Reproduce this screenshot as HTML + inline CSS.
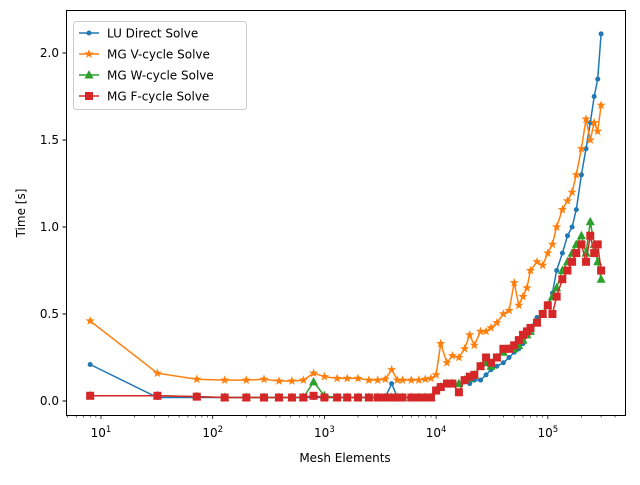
<!DOCTYPE html>
<html><head><meta charset="utf-8"><style>
body{margin:0;background:#fff;}
svg{font-family:"DejaVu Sans","Liberation Sans",sans-serif;}
</style></head><body>
<svg id="chart" width="640" height="480" xmlns="http://www.w3.org/2000/svg">
<rect x="0" y="0" width="640" height="480" fill="#fff"/>
<g id="plot"></g>
<rect x="66.5" y="10.5" width="559" height="405" fill="none" stroke="#000" stroke-width="1"/>
<g id="axes"></g>
<text x="345" y="462" font-size="12" text-anchor="middle">Mesh Elements</text>
<text x="25" y="213" font-size="12" text-anchor="middle" transform="rotate(-90 25 213)">Time [s]</text>
<g id="legend">
<rect x="73.5" y="21.5" width="173" height="88" rx="3" fill="#fff" fill-opacity="0.8" stroke="#ccc"/>
</g>
</svg>
<script>
const meshElements=[8,32,72,128,200,288,392,512,648,800,1000,1300,1600,2000,2500,3000,3500,4000,4500,5000,6000,7000,8000,9000,10000,11000,12500,14000,16000,18000,20000,22000,25000,28000,31000,35000,40000,45000,50000,55000,60000,65000,70000,80000,90000,100000,110000,120000,135000,150000,165000,180000,200000,220000,240000,260000,280000,300000];
const luTimes=[.21,.02,.02,.02,.02,.02,.02,.02,.02,.02,.02,.02,.02,.02,.02,.02,.02,.1,.02,.02,.02,.02,.02,.02,.07,.09,.1,.1,.1,.11,.1,.12,.12,.15,.18,.2,.22,.25,.28,.3,.33,.38,.42,.48,.5,.55,.62,.75,.85,.95,1.0,1.1,1.3,1.45,1.6,1.75,1.85,2.11];
const vTimes=[.46,.16,.125,.12,.12,.125,.115,.115,.12,.16,.14,.13,.13,.13,.12,.12,.125,.18,.12,.12,.12,.12,.125,.13,.15,.33,.22,.26,.25,.3,.38,.32,.4,.4,.42,.45,.5,.52,.68,.55,.6,.65,.75,.8,.78,.85,.9,1.0,1.1,1.15,1.2,1.3,1.45,1.62,1.5,1.6,1.55,1.7];
const wTimes=[.03,.03,.025,.02,.02,.02,.02,.02,.02,.11,.03,.02,.02,.02,.02,.02,.02,.02,.02,.02,.02,.02,.02,.02,.06,.08,.1,.1,.1,.12,.13,.15,.2,.22,.2,.25,.28,.3,.3,.32,.35,.38,.4,.45,.5,.55,.6,.65,.75,.8,.85,.9,.95,.85,1.03,.9,.8,.7];
const fTimes=[.03,.03,.025,.02,.02,.02,.02,.02,.02,.03,.02,.02,.02,.02,.02,.02,.02,.02,.02,.02,.02,.02,.02,.02,.06,.08,.1,.1,.05,.12,.14,.15,.2,.25,.22,.25,.3,.3,.32,.35,.38,.4,.42,.45,.5,.55,.5,.6,.7,.75,.8,.85,.9,.8,.95,.85,.9,.75];
const yTicks=[0,0.5,1.0,1.5,2.0];
const yTickLabels=["0.0","0.5","1.0","1.5","2.0"];
const xDecades=[1,2,3,4,5];
const seriesNames=["LU Direct Solve","MG V-cycle Solve","MG W-cycle Solve","MG F-cycle Solve"];

const NS="http://www.w3.org/2000/svg";
function X(v){return 101+(Math.log10(v)-1)*111.7;}
function Y(v){return 401-v*174;}
function mk(tag,attrs,parent){const e=document.createElementNS(NS,tag);for(const k in attrs)e.setAttribute(k,attrs[k]);parent.appendChild(e);return e;}
const plot=document.getElementById('plot'),axes=document.getElementById('axes'),legend=document.getElementById('legend');

yTicks.forEach((t,i)=>{
  const y=Y(t);
  const l=mk('line',{x1:62.5,x2:66.5,y1:y,y2:y,stroke:'#000'},axes);
  
  
  const tx=mk('text',{x:59,y:y+4,'font-size':12,'text-anchor':'end'},axes);
  tx.textContent=yTickLabels[i];
  
  
});
for(let d=0;d<=5;d++){
  for(let m=1;m<10;m++){
    const v=m*Math.pow(10,d);const x=X(v);
    if(x<66.5||x>625.5)continue;
    const major=m===1;
    const l=mk('line',{x1:x,x2:x,y1:415.5,y2:415.5+(major?3.5:2),stroke:'#000','stroke-width':major?0.8:0.6},axes);
    
    
  }
}
xDecades.forEach(d=>{
  const x=X(Math.pow(10,d));
  const t=mk('text',{x:x,y:437,'font-size':12,'text-anchor':'middle'},axes);
  t.innerHTML='10<tspan dy="-5" font-size="8.5">'+d+'</tspan>';
  
  
});

function marker(type,x,y,color,parent){
  let e;
  if(type==='o')e=mk('circle',{cx:x,cy:y,r:2.5,fill:color},parent);
  else if(type==='s')e=mk('rect',{x:x-4,y:y-4,width:8,height:8,fill:color},parent);
  else if(type==='^')e=mk('polygon',{points:`${x},${y-5} ${x+4.5},${y+3.5} ${x-4.5},${y+3.5}`,fill:color},parent);
  else{let p=[];for(let k=0;k<10;k++){const r=k%2?2:4.8;const a=-Math.PI/2+k*Math.PI/5;p.push((x+r*Math.cos(a)).toFixed(1)+','+(y+r*Math.sin(a)).toFixed(1));}
    e=mk('polygon',{points:p.join(' '),fill:color},parent);}
  return e;
}
const series=[[luTimes,'#1f77b4','o'],[vTimes,'#ff7f0e','*'],[wTimes,'#2ca02c','^'],[fTimes,'#d62728','s']];
series.forEach((s,si)=>{
  const g=mk('g',{},plot);
  
  
  const pts=meshElements.map((m,i)=>X(m).toFixed(1)+','+Y(s[0][i]).toFixed(1)).join(' ');
  const pl=mk('polyline',{points:pts,fill:'none',stroke:s[1],'stroke-width':1.5},g);
  
  
  meshElements.forEach((m,i)=>{
    const e=marker(s[2],X(m),Y(s[0][i]),s[1],g);
    
    
  });
  const ly=33+si*21;
  const lg=mk('g',{},legend);
  
  
  mk('line',{x1:79,x2:99,y1:ly,y2:ly,stroke:s[1],'stroke-width':1.5},lg);
  marker(s[2],89,ly,s[1],lg);
  const t=mk('text',{x:107,y:ly+4.5,'font-size':12},lg);
  t.textContent=seriesNames[si];
});
</script>
</body></html>
